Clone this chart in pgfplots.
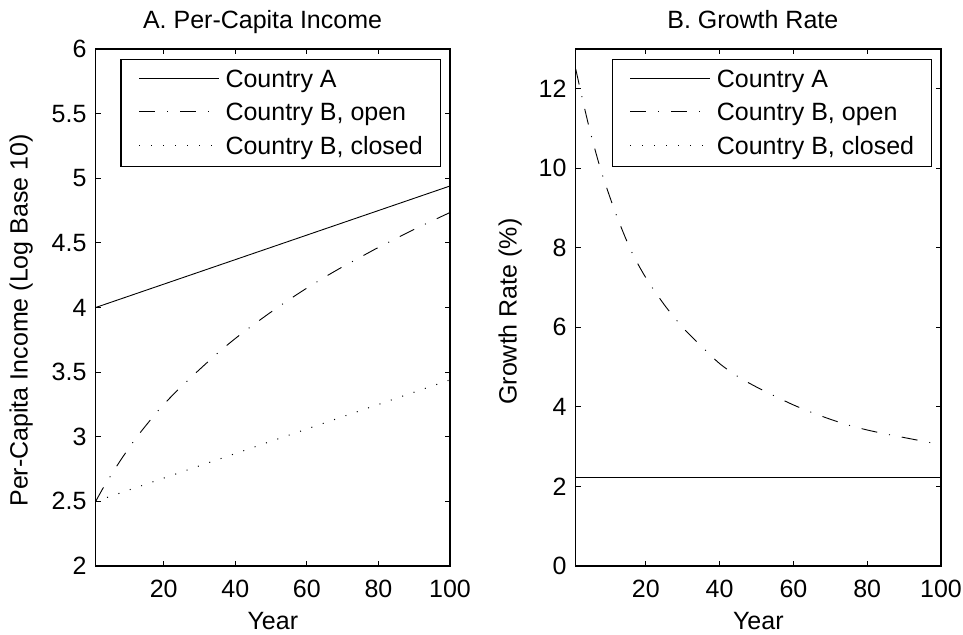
\documentclass[border=0pt]{standalone}
\usepackage{fontspec}
\setmainfont{Liberation Sans}
\usepackage{pgfplots}
\pgfplotsset{compat=1.18}
\newcommand{\fs}{\fontsize{25bp}{30bp}\selectfont}
\tikzset{
  solidl/.style={black, line width=0.9bp, solid},
  dashdotl/.style={black, line width=0.9bp, dash pattern=on 16bp off 12bp on 1bp off 12bp},
  dotl/.style={black, line width=1bp, dash pattern=on 1bp off 11bp}
}
\pgfplotsset{
  mystyle/.style={
    scale only axis, height=517bp,
    xmin=1, xmax=100, xtick={20,40,60,80,100},
    tick align=inside, major tick length=5bp,
    axis line style={line width=1.3bp},
    every tick/.style={black, line width=0.9bp},
    /pgf/number format/assume math mode=true,
    tick label style={font=\fs, inner sep=0pt},
    xticklabel style={yshift=-14bp},
    yticklabel style={xshift=-9bp},
    label style={font=\fs, inner sep=0pt},
    xlabel style={at={(axis description cs:0.5,-0.0884)}, anchor=north},
    every axis title shift=0pt,
    title style={font=\fs, inner sep=0pt, at={(axis description cs:0.5,1.0406)}, anchor=base},
    legend cell align=left,
    legend style={draw=black, line width=1.3bp, fill=white, inner xsep=17.5bp, inner ysep=10.75bp,
      row sep=14bp, nodes={inner sep=0pt}, font=\fs, anchor=north east,
      /tikz/every odd column/.append style={column sep=6bp}},
    legend image code/.code={\draw[##1] (0bp,1bp) -- (80bp,1bp);},
  }
}
\begin{document}
\begin{tikzpicture}[font=\fs]
\useasboundingbox (0,0) rectangle (963bp,635bp);
\begin{axis}[mystyle,
  at={(95.7bp,69bp)}, anchor=south west, width=354.3bp,
  ymin=2, ymax=6, ytick={2,2.5,3,3.5,4,4.5,5,5.5,6},
  yticklabels={2,2.5,3,3.5,4,4.5,5,5.5,6},
  title={A. Per-Capita Income},
  title style={at={(axis description cs:0.471,1.0406)}},
  xlabel={Year},
  ylabel={Per-Capita Income (Log Base 10)},
  ylabel style={at={(axis description cs:-0.1771,0.475)}, anchor=south},
  legend style={at={(0.9746,0.9807)}},
]
\addplot[solidl] coordinates {(1,4.00) (100,4.94)};
\addlegendentry{Country A}
\addplot[dashdotl, smooth] coordinates {
(1,2.50) (3,2.60) (5,2.69) (8,2.82) (12,2.98) (16,3.12) (20,3.25) (25,3.39)
(30,3.52) (35,3.645) (40,3.76) (45,3.865) (50,3.965) (55,4.06) (60,4.15)
(65,4.235) (70,4.315) (75,4.39) (80,4.465) (85,4.535) (90,4.605) (95,4.67) (100,4.735)};
\addlegendentry{Country B, open}
\addplot[dotl] coordinates {(1,2.50) (20,2.68) (40,2.87) (60,3.06) (80,3.25) (100,3.44)};
\addlegendentry{Country B, closed}
\end{axis}
\begin{axis}[mystyle,
  at={(575.7bp,69bp)}, anchor=south west, width=365.3bp,
  ymin=0, ymax=13, ytick={0,2,4,6,8,10,12},
  title={B. Growth Rate},
  title style={at={(axis description cs:0.485,1.0406)}},
  xlabel={Year},
  ylabel={Growth Rate (\%)},
  ylabel style={at={(axis description cs:-0.147,0.492)}, anchor=south},
  legend style={at={(0.9762,0.9807)}},
]
\addplot[solidl] coordinates {(1,2.23) (100,2.23)};
\addlegendentry{Country A}
\addplot[dashdotl, smooth] coordinates {
(1,12.5) (3,11.67) (5,10.9) (8,9.9) (12,8.83) (16,7.93) (20,7.25) (25,6.57)
(30,6.0) (35,5.53) (40,5.09) (45,4.76) (50,4.50) (55,4.27) (60,4.05) (65,3.86)
(70,3.69) (75,3.54) (80,3.42) (85,3.32) (90,3.23) (95,3.14) (100,3.05)};
\addlegendentry{Country B, open}
\addplot[dotl] coordinates {(1,2.23) (100,2.23)};
\addlegendentry{Country B, closed}
\end{axis}
\end{tikzpicture}
\end{document}
